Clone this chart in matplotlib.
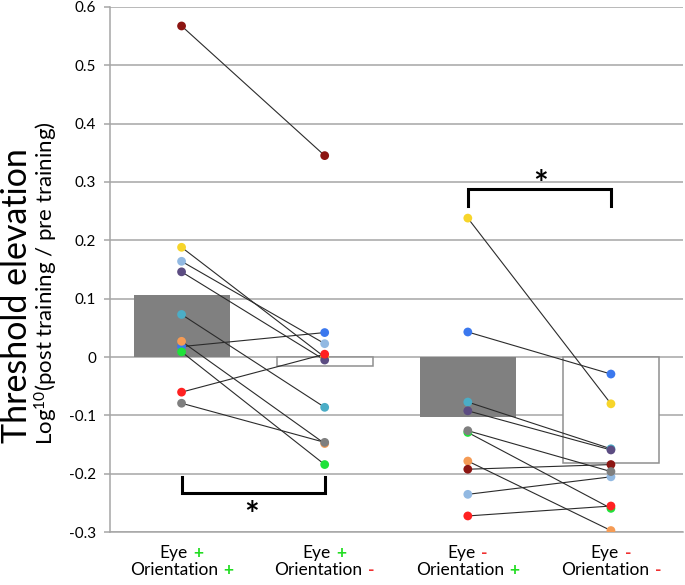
import matplotlib
matplotlib.use("Agg")
import matplotlib.pyplot as plt
from matplotlib.offsetbox import TextArea, HPacker, VPacker, AnnotationBbox

plt.rcParams['font.family'] = ['Lato', 'DejaVu Sans']
plt.rcParams['mathtext.fontset'] = 'custom'
plt.rcParams['mathtext.rm'] = 'Lato'
plt.rcParams['mathtext.it'] = 'Lato'

# ---- data ----
conditions = ["Eye + / Orientation +", "Eye + / Orientation -",
              "Eye - / Orientation +", "Eye - / Orientation -"]
eye_signs = ["+", "+", "-", "-"]
ori_signs = ["+", "-", "+", "-"]
bar_means = [0.106, -0.016, -0.103, -0.182]

subject_colors = {
    "yellow":    "#F7D52A",
    "teal":      "#4BADC6",
    "blue":      "#3B78EE",
    "orange":    "#F59B55",
    "green":     "#1FE23A",
    "lightblue": "#92B9E2",
    "darkred":   "#8C1512",
    "purple":    "#5C4C82",
    "red":       "#FF2121",
    "gray":      "#7F7F7F",
}
subject_values = {
    "yellow":    [0.188, 0.000, 0.238, -0.080],
    "teal":      [0.073, -0.086, -0.077, -0.157],
    "blue":      [0.018, 0.042, 0.043, -0.029],
    "orange":    [0.027, -0.148, -0.178, -0.297],
    "green":     [0.009, -0.184, -0.129, -0.259],
    "lightblue": [0.164, 0.023, -0.235, -0.205],
    "darkred":   [0.567, 0.345, -0.192, -0.184],
    "purple":    [0.146, -0.005, -0.092, -0.159],
    "red":       [-0.060, 0.005, -0.272, -0.255],
    "gray":      [-0.079, -0.146, -0.126, -0.196],
}
yticks = [-0.3, -0.2, -0.1, 0, 0.1, 0.2, 0.3, 0.4, 0.5, 0.6]
ytick_labels = ["-0.3", "-0.2", "-0.1", "0", "0.1", "0.2", "0.3", "0.4", "0.5", "0.6"]

# ---- figure ----
fig = plt.figure(figsize=(6.85, 5.85), dpi=100)
ax = fig.add_axes([110/685, 1-532.3/585, (682.5-110)/685, (532.3-6.7)/585])

x = list(range(len(conditions)))
gridc = "#A6A6A6"
ax.set_xlim(-0.5, 3.5)
ax.set_ylim(-0.3, 0.6)
ax.set_yticks(yticks)
ax.set_yticklabels(ytick_labels, fontsize=11)
ax.yaxis.grid(True, color=gridc, lw=1.1)
ax.set_axisbelow(True)
ax.set_xticks([])
for s in ["top", "right"]:
    ax.spines[s].set_visible(False)
for s in ["left", "bottom"]:
    ax.spines[s].set_color(gridc)
    ax.spines[s].set_linewidth(1.1)
ax.tick_params(axis='y', length=4, color=gridc, width=1.1, pad=6)

# bars
bw = 0.67
ax.bar([x[0], x[2]], [bar_means[0], bar_means[2]], width=bw, color="#808080", zorder=2)
ax.bar([x[1], x[3]], [bar_means[1], bar_means[3]], width=bw, facecolor="white",
       edgecolor="#8F8F8F", linewidth=1.1, zorder=2)

# connecting lines
for name, vals in subject_values.items():
    ax.plot([x[0], x[1]], vals[0:2], color="#2B2B2B", lw=0.8, zorder=3)
    ax.plot([x[2], x[3]], vals[2:4], color="#2B2B2B", lw=0.8, zorder=3)
# dots
for i, (name, vals) in enumerate(subject_values.items()):
    ax.scatter(x, vals, s=40, color=subject_colors[name], edgecolors="none", zorder=4 + i * 0.01)

# significance brackets
ax.plot([x[0], x[0], x[1], x[1]], [-0.205, -0.233, -0.233, -0.205], color="black", lw=2.2,
        solid_joinstyle="miter", zorder=5)
ax.text((x[0] + x[1]) / 2 - 0.01, -0.272, "*", fontsize=25, fontweight="bold", ha="center", va="center")
ax.plot([x[2], x[2], x[3], x[3]], [0.259, 0.287, 0.287, 0.259], color="black", lw=2.2,
        solid_joinstyle="miter", zorder=5)
ax.text((x[2] + x[3]) / 2 + 0.01, 0.295, "*", fontsize=25, fontweight="bold", ha="center", va="center")

# category labels with coloured signs
sign_color = {"+": "#22DD22", "-": "#F03030"}
fs = 12.5
for i in x:
    l1 = HPacker(children=[TextArea("Eye", textprops=dict(fontsize=fs, color="black")),
                           TextArea(eye_signs[i], textprops=dict(fontsize=fs, color=sign_color[eye_signs[i]], fontweight="bold"))],
                 align="baseline", pad=0, sep=4)
    l2 = HPacker(children=[TextArea("Orientation", textprops=dict(fontsize=fs, color="black")),
                           TextArea(ori_signs[i], textprops=dict(fontsize=fs, color=sign_color[ori_signs[i]], fontweight="bold"))],
                 align="baseline", pad=0, sep=4)
    box = VPacker(children=[l1, l2], align="center", pad=0, sep=0.5)
    ab = AnnotationBbox(box, (i, 0), xycoords=ax.get_xaxis_transform(), xybox=(0, -9.5),
                        boxcoords="offset points", box_alignment=(0.5, 1), frameon=False, pad=0)
    ax.add_artist(ab)

# y labels
fig.text(17/685, 1-296/585, "Threshold elevation", rotation=90, fontsize=24.5, ha="center", va="center")
fig.text(46/685, 1-283/585, r"Log$^{10}$(post training / pre training)", rotation=90,
         fontsize=16, ha="center", va="center")

fig.savefig("out.png", dpi=100)
